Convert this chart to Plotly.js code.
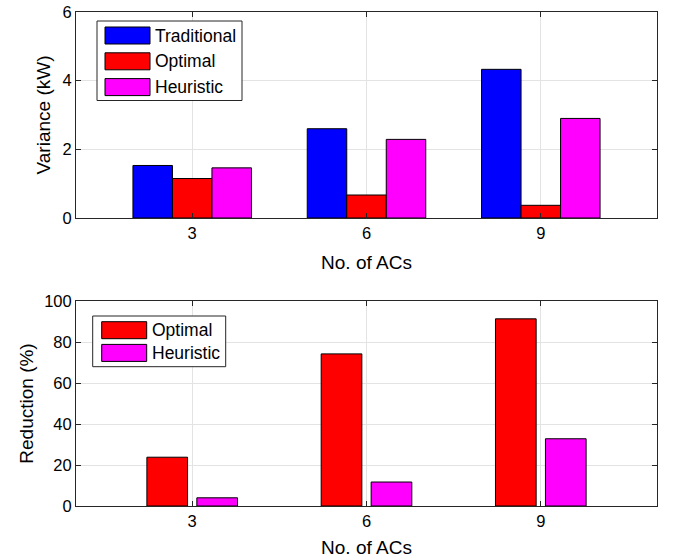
<!DOCTYPE html>
<html>
<head>
<meta charset="utf-8">
<script src="https://cdn.plot.ly/plotly-3.0.1.min.js"></script>
<style>
html,body{margin:0;padding:0;background:#fff;}
#chart{width:674px;height:560px;}
</style>
</head>
<body>
<div id="chart"></div>
<script>
// ---- data ----
const numACs = [3, 6, 9];
const tickLabels = ['3', '6', '9'];
const varianceTraditional = [1.53, 2.60, 4.33];
const varianceOptimal = [1.15, 0.67, 0.37];
const varianceHeuristic = [1.46, 2.29, 2.90];
const reductionOptimal = [23.8, 74.2, 91.3];
const reductionHeuristic = [4.0, 11.7, 32.8];
const topNames = ['Traditional', 'Optimal', 'Heuristic'];
const bottomNames = ['Optimal', 'Heuristic'];
const colors = {Traditional: '#0000ff', Optimal: '#ff0000', Heuristic: '#ff00ff'};

// ---- geometry helpers ----
const W = 674, H = 560;
const px = x => x / W;
const py = y => 1 - y / H;
const FONT = 'Liberation Sans, Arial, sans-serif';

function barTrace(x, y, name, xa, ya) {
  return {
    type: 'bar', x: x, y: y, name: name, xaxis: xa, yaxis: ya,
    marker: {color: colors[name], line: {color: '#000', width: 1}},
    showlegend: false, hoverinfo: 'x+y+name'
  };
}

const topSeries = [varianceTraditional, varianceOptimal, varianceHeuristic];
const botSeries = [reductionOptimal, reductionHeuristic];

const traces = [];
topNames.forEach((n, i) => traces.push(barTrace(numACs, topSeries[i], n, 'x', 'y')));
// bottom panel: two bars per group with a small gap between them
const botBarWidth = 0.70;
const botOffsets = [-0.78, 0.08];
bottomNames.forEach((n, i) => {
  const t = barTrace(numACs, botSeries[i], n, 'x2', 'y2');
  t.width = botBarWidth;
  t.offset = botOffsets[i];
  traces.push(t);
});

const axisCommon = {
  showline: true, linecolor: '#262626', linewidth: 1, mirror: 'ticks',
  ticks: 'inside', ticklen: 5, tickcolor: '#262626',
  showgrid: true, gridcolor: '#e3e3e3', gridwidth: 1,
  zeroline: false,
  tickfont: {family: FONT, size: 16.5, color: '#000'}
};

function xaxis(domainAnchor, standoff) {
  return Object.assign({}, axisCommon, {
    domain: [px(76), px(657)], range: [1, 11], anchor: domainAnchor,
    tickmode: 'array', tickvals: numACs, ticktext: tickLabels,
    title: {text: 'No. of ACs', font: {family: FONT, size: 19, color: '#000'}, standoff: standoff}
  });
}

// ---- custom legend (shapes + annotations) ----
const shapes = [];
const annotations = [];
function legend(names, box, sw) {
  shapes.push({type: 'rect', xref: 'paper', yref: 'paper',
    x0: px(box[0]), x1: px(box[1]), y0: py(box[2]), y1: py(box[3]),
    line: {color: '#262626', width: 1}, fillcolor: '#fff', layer: 'above'});
  names.forEach((n, i) => {
    const top = sw.top + i * sw.step;
    shapes.push({type: 'rect', xref: 'paper', yref: 'paper',
      x0: px(sw.x0), x1: px(sw.x1), y0: py(top), y1: py(top + sw.h),
      line: {color: '#000', width: 1}, fillcolor: colors[n], layer: 'above'});
    annotations.push({xref: 'paper', yref: 'paper', x: px(sw.x1 + 3), y: py(top + sw.h / 2),
      xanchor: 'left', yanchor: 'middle', showarrow: false, text: n,
      font: {family: FONT, size: 17.5, color: '#000'}});
  });
}
legend(topNames, [97, 242, 21, 100.5], {x0: 105, x1: 150, top: 27, h: 17, step: 25.8});
legend(bottomNames, [92.7, 225.7, 316, 366.7], {x0: 101.7, x1: 146.7, top: 321.7, h: 17, step: 22.7});

const layout = {
  width: W, height: H,
  margin: {l: 0, r: 0, t: 0, b: 0},
  paper_bgcolor: '#fff', plot_bgcolor: '#fff',
  font: {family: FONT, color: '#000'},
  barmode: 'group', bargap: 0.32, bargroupgap: 0,
  showlegend: false,
  xaxis: xaxis('y', 14),
  yaxis: Object.assign({}, axisCommon, {
    domain: [py(218), py(12)], range: [0, 6], anchor: 'x',
    tickvals: [0, 2, 4, 6],
    title: {text: 'Variance (kW)', font: {family: FONT, size: 19, color: '#000'}, standoff: 6}
  }),
  xaxis2: xaxis('y2', 11),
  yaxis2: Object.assign({}, axisCommon, {
    domain: [py(506), py(301)], range: [0, 100], anchor: 'x2',
    tickvals: [0, 20, 40, 60, 80, 100],
    title: {text: 'Reduction (%)', font: {family: FONT, size: 19, color: '#000'}, standoff: 5}
  }),
  shapes: shapes,
  annotations: annotations
};

Plotly.newPlot('chart', traces, layout, {displayModeBar: false, staticPlot: true});
</script>
</body>
</html>
